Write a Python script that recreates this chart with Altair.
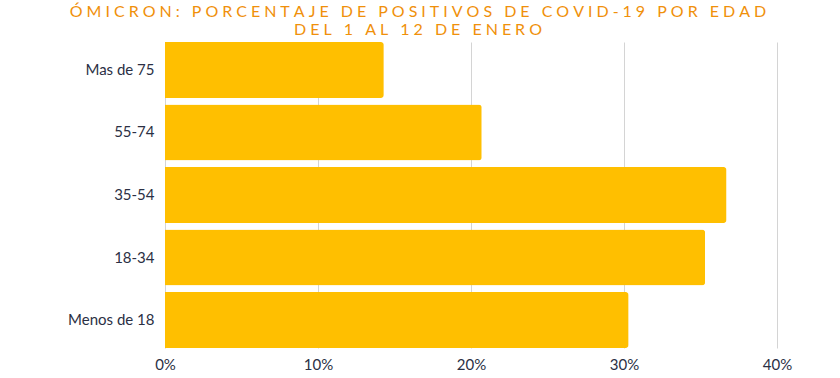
import altair as alt
import pandas as pd

categories = ["Mas de 75", "55-74", "35-54", "18-34", "Menos de 18"]
values = [0.143, 0.207, 0.367, 0.353, 0.303]

title_lines = ["ÓMICRON: PORCENTAJE DE POSITIVOS DE COVID-19 POR EDAD",
               "DEL 1 AL 12 DE ENERO"]
# letter spacing emulated with thin spaces between characters
spaced = ["\u2009\u2009".join(list(t)) for t in title_lines]

df = pd.DataFrame({"edad": categories, "pct": values})

chart = alt.Chart(df).mark_bar(
    color="#FFBF00", cornerRadiusTopRight=3, cornerRadiusBottomRight=3
).encode(
    y=alt.Y("edad:N", sort=categories, title=None,
            scale=alt.Scale(paddingInner=0.105, paddingOuter=0),
            axis=alt.Axis(ticks=False, domain=False, labelPadding=11,
                          labelFontSize=15, labelColor="#2B3044",
                          labelFont="Lato")),
    x=alt.X("pct:Q", title=None,
            scale=alt.Scale(domain=[0, 0.4], nice=False),
            axis=alt.Axis(format=".0%", values=[0, 0.1, 0.2, 0.3, 0.4],
                          ticks=False, domain=False, labelPadding=9,
                          labelFontSize=15, labelColor="#2B3044",
                          labelFont="Lato", gridColor="#D4D4D4",
                          labelFlush=False)),
).properties(
    width=612, height=306,
    padding={"left": 165, "top": 42, "right": 63, "bottom": 30},
    autosize=alt.AutoSizeParams(type="none"),
    title=alt.TitleParams(
        spaced,
        color="#F0900A", font="Lato", fontSize=16, fontWeight="normal",
        anchor="middle", dx=-53, offset=4, lineHeight=18,
        limit=900,
    ),
).configure_view(stroke=None)

chart.save("out.html", embed_options={"renderer": "svg", "actions": False})
